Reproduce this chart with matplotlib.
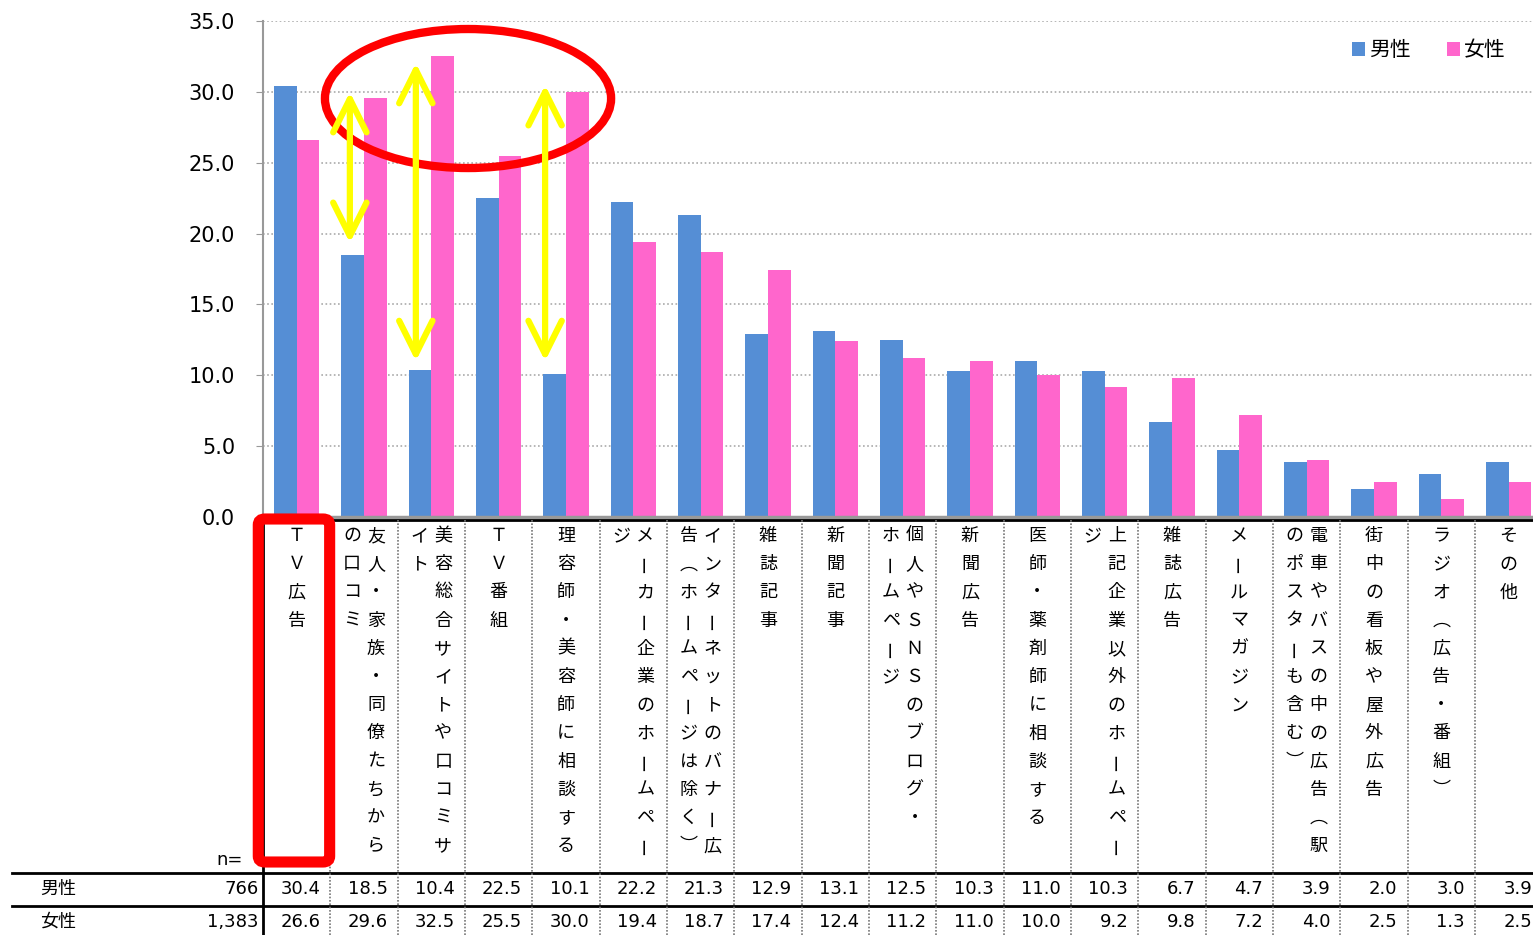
import matplotlib.pyplot as plt
import numpy as np
from matplotlib.patches import Ellipse, FancyBboxPatch, FancyArrowPatch, ArrowStyle

plt.rcParams['font.family'] = ['DejaVu Sans', 'Noto Sans CJK JP']
JP = ['Noto Sans CJK JP', 'DejaVu Sans']

categories = ['ＴＶ広告', '友人・家族・同僚たちからの口コミ', '美容総合サイトや口コミサイト', 'ＴＶ番組',
              '理容師・美容師に相談する', 'メーカー企業のホームページ',
              'インターネットのバナー広告（ホームページは除く）', '雑誌記事', '新聞記事',
              '個人やＳＮＳのブログ・ホームページ', '新聞広告', '医師・薬剤師に相談する',
              '上記企業以外のホームページ', '雑誌広告', 'メールマガジン',
              '電車やバスの中の広告（駅のポスターも含む）', '街中の看板や屋外広告',
              'ラジオ（広告・番組）', 'その他']
male = [30.4, 18.5, 10.4, 22.5, 10.1, 22.2, 21.3, 12.9, 13.1, 12.5, 10.3, 11.0, 10.3, 6.7, 4.7, 3.9, 2.0, 3.0, 3.9]
female = [26.6, 29.6, 32.5, 25.5, 30.0, 19.4, 18.7, 17.4, 12.4, 11.2, 11.0, 10.0, 9.2, 9.8, 7.2, 4.0, 2.5, 1.3, 2.5]
series = ['男性', '女性']
n_counts = ['766', '1,383']
yticks = [0, 5, 10, 15, 20, 25, 30, 35]

BLUE = '#558ED5'
PINK = '#FF66CC'

W, H = 1533, 935
fig = plt.figure(figsize=(W / 100, H / 100), dpi=100)
colw = 67.33                      # px per category column
x_right = 263 + colw * len(categories)
ax = fig.add_axes([263 / W, 1 - 517 / H, (x_right - 263) / W, (517 - 21) / H])

x = np.arange(len(categories))
bw = 0.335
b1 = ax.bar(x + 0.5 - bw / 2, male, bw, color=BLUE, label=series[0])
b2 = ax.bar(x + 0.5 + bw / 2, female, bw, color=PINK, label=series[1])

ax.set_xlim(0, len(categories))
ax.set_ylim(0, 35)
ax.set_yticks(yticks)
ax.set_yticklabels(['%.1f' % v for v in yticks], fontsize=15)
ax.set_xticks([])
ax.yaxis.grid(True, linestyle=(0, (1, 1.5)), color='#aaaaaa', lw=1.2)
ax.set_axisbelow(True)
for s in ['top', 'right']:
    ax.spines[s].set_visible(False)
ax.spines['left'].set_color('#999999')
ax.spines['left'].set_linewidth(1.5)
ax.spines['bottom'].set_color('#999999')
ax.spines['bottom'].set_linewidth(2.5)
ax.tick_params(axis='y', length=5, color='#999999', pad=15)

fig.legend(handles=[b1, b2], loc='center left', bbox_to_anchor=(1333 / W, 1 - 50 / H),
           ncol=2, frameon=False, prop={'family': JP, 'size': 15},
           handlelength=0.65, handleheight=0.65, handletextpad=0.2, columnspacing=1.7)

# annotations: red ellipse and yellow double arrows
ax.add_patch(Ellipse((3.045, 29.53), 4.25, 9.81, fill=False, ec='#FF0000', lw=6, clip_on=False, zorder=5))
arrows = [(1.29, 29.99, 19.34), (2.27, 32.04, 11.0), (4.19, 30.48, 11.0)]
for ax_x, top, bot in arrows:
    ar = FancyArrowPatch((ax_x, bot), (ax_x, top),
                         arrowstyle=ArrowStyle('<->', head_length=24, head_width=12),
                         mutation_scale=1, color='#FFFF00', lw=4.5, shrinkA=0, shrinkB=0,
                         capstyle='round', joinstyle='round', clip_on=False, zorder=6)
    ax.add_patch(ar)

# table / label area underneath
tab = fig.add_axes([0, 0, x_right / W, (H - 517) / H])
tab.set_xlim(-263 / colw, len(categories))
tab.set_ylim(H, 517)
tab.axis('off')

tab.plot([0, len(categories)], [519.5, 519.5], color='black', lw=2)
for yy in [873, 906]:
    tab.plot([(12 - 263) / colw, len(categories)], [yy, yy], color='black', lw=2)
tab.plot([0, 0], [519, H], color='black', lw=2)
for i in range(1, len(categories)):
    tab.plot([i, i], [520, H], color='#777777', lw=1.2, linestyle=(0, (1, 1)))

# vertical writing: some glyphs turn or take their vertical forms
ROT = {'ー': 90}
VFORM = {'（': '︵', '）': '︶'}


def wrap_cols(s, n=12):
    cols = []
    while s:
        k = min(n, len(s))
        if k < len(s) and s[k] in 'ー）、。' and k > 1:
            k -= 1
        cols.append(s[:k])
        s = s[k:]
    return cols


dx = 24 / colw
for i, name in enumerate(categories):
    cols = wrap_cols(name)
    nc = len(cols)
    for c, txt in enumerate(cols):
        cx = i + 0.5 + (nc - 1) / 2 * dx - c * dx
        for j, ch in enumerate(txt):
            tab.text(cx, 536 + j * 28.2, VFORM.get(ch, ch), ha='center', va='center', fontsize=13,
                     family=JP, rotation=ROT.get(ch, 0), rotation_mode='anchor', zorder=7)

tab.text(-0.3, 860, 'n=', ha='right', va='center', fontsize=13)
for r, (vals, lab, n) in enumerate(zip([male, female], series, n_counts)):
    yy = 889 + r * 33
    tab.text((40 - 263) / colw, yy, lab, ha='left', va='center', fontsize=13, family=JP)
    tab.text(-0.07, yy, n, ha='right', va='center', fontsize=13)
    for i, v in enumerate(vals):
        tab.text(i + 0.85, yy, '%.1f' % v, ha='right', va='center', fontsize=13)

tab.add_patch(FancyBboxPatch((-0.07, 519), 1.06, 343,
                             boxstyle='round,pad=0,rounding_size=0.1', mutation_aspect=60,
                             fill=False, ec='#FF0000', lw=8, zorder=5, clip_on=False))

plt.savefig('out.png', dpi=100)
